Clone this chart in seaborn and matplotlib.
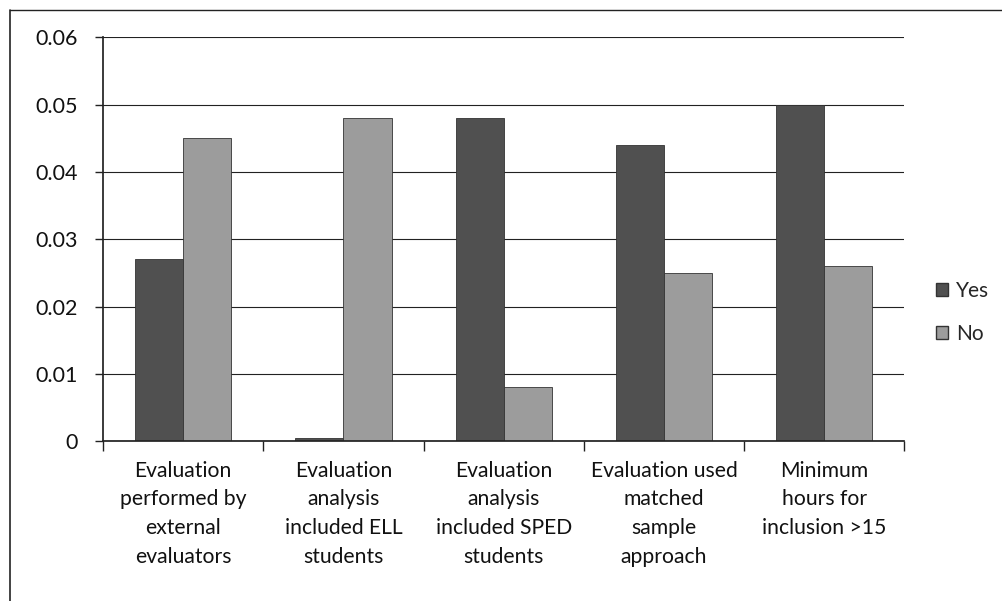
import pandas as pd
import numpy as np
import seaborn as sns
import matplotlib.pyplot as plt
from matplotlib.lines import Line2D

categories = ["Evaluation\nperformed by\nexternal\nevaluators",
              "Evaluation\nanalysis\nincluded ELL\nstudents",
              "Evaluation\nanalysis\nincluded SPED\nstudents",
              "Evaluation used\nmatched\nsample\napproach",
              "Minimum\nhours for\ninclusion >15"]
yes_vals = [0.027, 0.0005, 0.048, 0.044, 0.050]
no_vals = [0.045, 0.048, 0.008, 0.025, 0.026]

df = pd.DataFrame({
    "cat": categories * 2,
    "val": yes_vals + no_vals,
    "grp": ["Yes"] * 5 + ["No"] * 5,
})

sns.set_theme(style="white")
plt.rcParams['font.family'] = ['Lato', 'DejaVu Sans']

fig = plt.figure(figsize=(10.02, 6.01), dpi=100)
ax = fig.add_axes([0.1028, 0.266, 0.7998, 0.672])

sns.barplot(data=df, x="cat", y="val", hue="grp", palette=["#505050", "#9c9c9c"],
            width=0.6, edgecolor="#333333", linewidth=0.6, ax=ax, legend=False)

ax.set_ylim(0, 0.06)
ax.set_xlim(-0.5, 4.5)
ax.set_yticks(np.arange(0, 0.061, 0.01))
ax.set_yticklabels(["0", "0.01", "0.02", "0.03", "0.04", "0.05", "0.06"])
ax.yaxis.grid(True, color="#222222", linewidth=0.8)
ax.set_axisbelow(True)
ax.set_xlabel("")
ax.set_ylabel("")

for s in ["top", "right"]:
    ax.spines[s].set_visible(False)
ax.spines["left"].set_color("#222222")
ax.spines["bottom"].set_color("#222222")

# category boundary ticks on x axis
ax.set_xticks(np.arange(-0.5, 4.6, 1), minor=True)
ax.tick_params(axis="x", which="minor", length=7, width=1, color="#222222", bottom=True)
ax.tick_params(axis="x", which="major", length=0, labelsize=15.2, pad=14)
ax.tick_params(axis="y", length=6, width=1, color="#222222", left=True, labelsize=15.5, pad=12)
plt.setp(ax.get_xticklabels(), linespacing=1.55, color="#111111")
plt.setp(ax.get_yticklabels(), color="#111111")

handles = [plt.Rectangle((0, 0), 1, 1, facecolor="#505050", edgecolor="#333333"),
           plt.Rectangle((0, 0), 1, 1, facecolor="#9c9c9c", edgecolor="#333333")]
fig.legend(handles, ["Yes", "No"], loc="center left", bbox_to_anchor=(0.915, 0.48),
           frameon=False, fontsize=15, handlelength=0.6, handleheight=0.6,
           handletextpad=0.4, labelspacing=1.1)

# outer chart frame (top and left edges visible)
fig.add_artist(Line2D([0.010, 1.0], [0.983, 0.983], color="#222222", linewidth=1))
fig.add_artist(Line2D([0.010, 0.010], [0.0, 0.983], color="#222222", linewidth=1.2))

fig.savefig("out.png", dpi=100)
